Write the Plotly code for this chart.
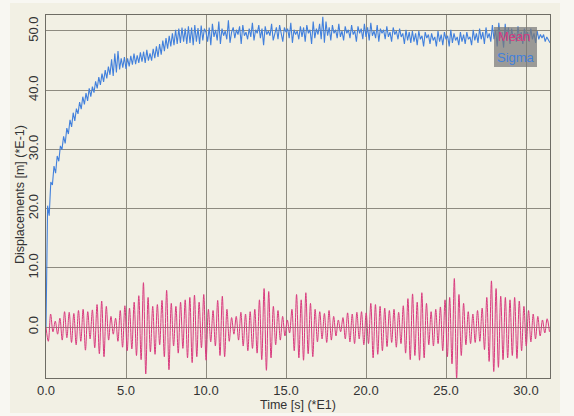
import plotly.graph_objects as go

# ---- data ----
mean_dt = 0.145  # half-period sampling of the "Mean" oscillation (x in *E1 s)
mean_vals = [
    0.0, -2.4, 2.2, -0.8, 1.0, -1.2, 1.5,
    -2.2, 2.6, -1.8, 2.5, -2.6, 2.3, -3.0,
    2.8, -2.4, 3.0, -3.9, 2.6, -2.0, 2.9,
    -3.5, 3.8, -4.5, 4.4, -5.0, 3.5, -2.2,
    1.8, -1.2, 1.5, -2.4, 2.8, -3.4, 3.6,
    -4.0, 3.2, -3.7, 4.2, -4.8, 5.3, -5.5,
    7.5, -7.9, 5.0, -4.2, 3.5, -4.6, 3.8,
    -3.0, 4.5, -5.0, 6.2, -7.2, 4.0, -3.2,
    3.5, -4.4, 4.2, -3.6, 4.6, -5.2, 5.0,
    -6.0, 5.4, -5.0, 4.2, -3.5, 5.5, -5.6,
    3.0, -2.5, 2.8, -3.2, 4.5, -4.8, 5.2,
    -5.0, 3.0, -2.4, 1.6, -1.2, 1.8, -2.2,
    2.5, -3.2, 2.2, -4.0, 2.6, -3.6, 3.0,
    -4.4, 4.6, -5.5, 6.5, -7.3, 6.0, -5.2,
    3.5, -3.0, 2.8, -2.2, 1.8, -1.5, 1.2,
    -1.0, 3.0, -4.0, 5.5, -5.2, 4.6, -5.6,
    5.8, -4.5, 4.0, -5.0, 3.0, -2.5, 2.6,
    -2.0, 2.3, -2.6, 2.8, -2.2, 1.8, -1.5,
    1.2, -0.8, 1.6, -2.0, 2.4, -2.5, 2.2,
    -2.8, 2.5, -2.0, 2.6, -3.0, 2.4, -2.8,
    4.0, -5.2, 3.8, -4.6, 3.5, -4.0, 3.2,
    -3.3, 2.8, -2.6, 3.0, -3.4, 2.5, -2.8,
    3.6, -4.4, 4.8, -5.5, 5.6, -4.8, 4.2,
    -5.6, 5.8, -5.2, 4.0, -3.0, 2.6, -3.2,
    3.0, -2.8, 3.4, -4.0, 4.6, -5.0, 5.0,
    -6.2, 8.2, -8.7, 5.5, -4.8, 4.0, -3.0,
    2.6, -2.8, 2.2, -2.6, 2.8, -2.4, 3.2,
    -3.8, 5.0, -5.8, 7.8, -7.5, 6.5, -6.8,
    5.2, -5.5, 5.0, -5.2, 4.6, -4.8, 5.0,
    -5.3, 4.4, -4.0, 3.5, -3.2, 2.8, -2.5,
    2.2, -2.0, 1.8, -1.5, 1.2, -1.0, 1.4, -0.8,
]

sigma_dt = 0.1
sigma_vals = [
    0.0, 20.5, 18.8, 24.5, 24.0, 27.2, 26.0, 28.9, 28.0, 30.6,
    30.0, 32.2, 31.0, 33.6, 32.6, 35.0, 33.8, 36.2, 34.8, 36.9,
    36.0, 38.0, 36.8, 38.9, 37.6, 39.5, 38.2, 40.3, 38.9, 40.6,
    39.6, 41.5, 40.3, 42.2, 40.9, 42.8, 41.4, 43.4, 42.0, 44.0,
    42.6, 45.2, 42.4, 46.2, 43.0, 46.6, 43.5, 45.4, 43.8, 45.6,
    43.6, 45.4, 44.0, 45.8, 44.3, 46.2, 44.4, 45.9, 44.6, 46.4,
    44.8, 46.5, 44.6, 46.8, 45.0, 46.2, 45.0, 47.0, 45.4, 47.4,
    45.6, 47.8, 46.0, 48.4, 46.6, 48.8, 47.0, 49.2, 47.4, 49.6,
    47.6, 50.2, 47.8, 50.4, 48.0, 50.6, 48.2, 50.4, 47.8, 50.8,
    48.0, 50.6, 47.6, 51.0, 48.2, 50.5, 47.8, 50.9, 48.4, 50.4,
    49.8, 48.2, 50.6, 47.6, 51.2, 49.0, 50.2, 48.4, 51.6, 47.8,
    50.4, 49.2, 50.0, 48.6, 51.8, 48.0, 49.8, 50.6, 48.8, 50.2,
    49.4, 50.8, 47.8, 51.0, 49.2, 49.8, 48.6, 50.4, 49.0, 51.4,
    48.4, 50.2, 49.6, 51.0, 48.8, 50.4, 47.6, 50.8, 49.4, 50.0,
    49.2, 51.2, 48.4, 49.8, 50.6, 48.6, 51.0, 49.6, 48.2, 50.6,
    49.8, 50.4, 48.8, 51.4, 48.0, 50.2, 49.4, 50.0, 48.6, 50.8,
    49.0, 50.6, 48.2, 51.0, 49.6, 50.2, 47.8, 51.6, 48.8, 50.4,
    49.4, 51.2, 48.6, 52.4, 48.0, 51.6, 49.2, 50.6, 48.4, 51.0,
    49.6, 50.2, 48.8, 51.2, 49.0, 50.0, 48.4, 50.8, 49.6, 50.2,
    48.8, 51.0, 49.4, 50.0, 48.2, 50.8, 49.6, 50.4, 48.6, 51.2,
    49.0, 50.6, 48.4, 51.4, 49.2, 50.0, 48.8, 51.0, 48.2, 50.4,
    49.6, 50.2, 48.6, 50.8, 49.0, 49.8, 48.2, 50.6, 49.4, 50.0,
    48.6, 50.4, 49.0, 49.6, 47.8, 50.2, 48.4, 49.8, 48.0, 50.0,
    48.2, 49.6, 47.6, 50.0, 48.6, 49.2, 47.4, 49.8, 48.8, 49.4,
    47.8, 49.6, 48.4, 49.0, 47.4, 50.0, 48.2, 49.4, 47.6, 49.8,
    48.6, 49.2, 47.4, 50.2, 48.0, 49.6, 48.4, 49.0, 47.6, 49.8,
    48.2, 49.4, 47.8, 49.8, 48.6, 49.0, 47.6, 50.2, 48.4, 49.6,
    48.0, 50.4, 48.6, 49.8, 47.8, 50.6, 48.8, 49.6, 48.2, 51.0,
    48.6, 50.2, 47.4, 51.4, 48.8, 49.8, 47.2, 51.2, 48.4, 50.6,
    47.8, 50.4, 48.8, 49.6, 48.2, 50.8, 48.6, 49.8, 47.8, 50.4,
    48.8, 49.8, 48.2, 50.4, 48.6, 49.6, 48.0, 50.0, 48.6, 49.4,
    48.8, 49.4, 48.2, 49.0, 48.6, 48.0,
]

x_ticks = [0, 5, 10, 15, 20, 25, 30]
x_tick_labels = ["0.0", "5.0", "10.0", "15.0", "20.0", "25.0", "30.0"]
y_ticks = [0, 10, 20, 30, 40, 50]
y_tick_labels = ["0.0", "10.0", "20.0", "30.0", "40.0", "50.0"]
series_names = ["Mean", "Sigma"]
x_title = "Time [s] (*E1)"
y_title = "Displacements [m] (*E-1)"

mean_t = [i * mean_dt for i in range(len(mean_vals))]
sigma_t = [i * sigma_dt for i in range(len(sigma_vals))]

PINK = "#d93a7e"
BLUE = "#4280dc"
BG = "#f2f0e4"
GRID = "#8e8b80"
FONT = "Liberation Sans"
TXT = "#333333"

# plot area in pixels: x 46..550, y 15..378
PX0, PX1, PY0, PY1 = 46, 550, 15, 378
def px(xp):
    return (xp - PX0) / (PX1 - PX0)
def py(yp):
    return (PY1 - yp) / (PY1 - PY0)

fig = go.Figure()
fig.add_trace(go.Scatter(x=sigma_t, y=sigma_vals, mode="lines", name=series_names[1],
                         line=dict(color=BLUE, width=1.1)))
fig.add_trace(go.Scatter(x=mean_t, y=mean_vals, mode="lines", name=series_names[0],
                         line=dict(color=PINK, width=1.0, shape="spline", smoothing=1.0)))

fig.update_layout(
    width=574, height=416,
    margin=dict(l=PX0, r=574 - PX1, t=PY0, b=416 - PY1),
    paper_bgcolor="#f8f7f2",
    plot_bgcolor=BG,
    showlegend=False,
    font=dict(family=FONT, size=13, color=TXT),
    xaxis=dict(range=[0, 31.5], tickvals=x_ticks, ticktext=x_tick_labels,
               showgrid=True, gridcolor=GRID, gridwidth=1, zeroline=False,
               showline=True, mirror=True, linecolor="#6e6c64", linewidth=1,
               ticks="", tickfont=dict(size=13)),
    yaxis=dict(range=[-8.6, 52.7], tickvals=y_ticks, ticktext=y_tick_labels,
               tickangle=-90,
               showgrid=True, gridcolor=GRID, gridwidth=1, zeroline=False,
               showline=True, mirror=True, linecolor="#6e6c64", linewidth=1,
               ticks="", ticklabelstandoff=2, tickfont=dict(size=13)),
    shapes=[
        dict(type="rect", xref="paper", yref="paper", layer="below",
             x0=px(10), x1=px(560), y0=py(413), y1=py(3),
             fillcolor=BG, line=dict(width=0)),
        dict(type="rect", xref="paper", yref="paper", layer="above",
             x0=px(494), x1=px(537), y0=py(67), y1=py(27),
             fillcolor="rgba(120,120,120,0.72)", line=dict(width=0)),
    ],
    annotations=[
        dict(text=series_names[0], xref="paper", yref="paper",
             x=px(514), y=py(37), xanchor="center", yanchor="middle",
             showarrow=False, font=dict(color=PINK, size=13, family=FONT)),
        dict(text=series_names[1], xref="paper", yref="paper",
             x=px(515.5), y=py(57.5), xanchor="center", yanchor="middle",
             showarrow=False, font=dict(color=BLUE, size=13, family=FONT)),
        dict(text=x_title, xref="paper", yref="paper",
             x=px(298), y=py(405), xanchor="center", yanchor="middle",
             showarrow=False, font=dict(size=12.5, family=FONT, color=TXT)),
        dict(text=y_title, xref="paper", yref="paper", textangle=-90,
             x=px(20), y=py(195), xanchor="center", yanchor="middle",
             showarrow=False, font=dict(size=12.5, family=FONT, color=TXT)),
    ],
)

fig.write_html("out.html")
